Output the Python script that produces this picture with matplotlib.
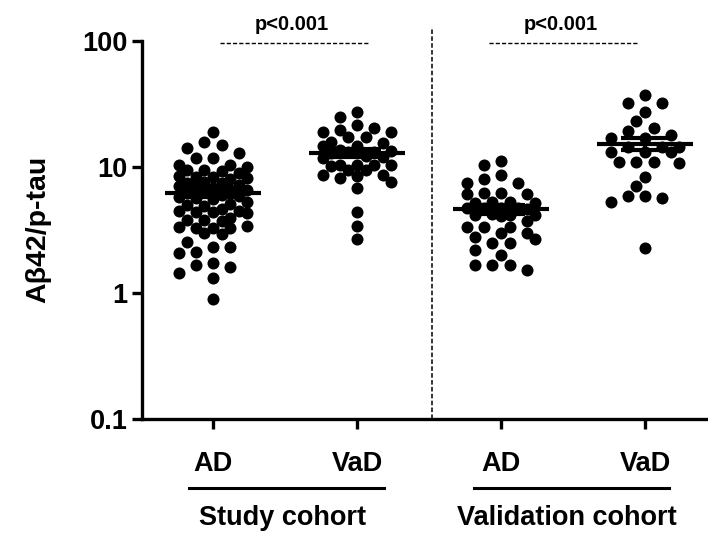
import numpy as np
import matplotlib
matplotlib.use("Agg")
import matplotlib.pyplot as plt
import matplotlib.transforms as mtransforms

plt.rcParams['font.family'] = ['Liberation Sans', 'DejaVu Sans']
plt.rcParams['font.weight'] = 'bold'

# --- DATA ---
groups = ['AD', 'VaD', 'AD', 'VaD']
cohorts = ['Study cohort', 'Validation cohort']
p_labels = ['p<0.001', 'p<0.001']

study_ad = [19.0, 15.6, 14.9, 14.0, 12.9, 11.8, 11.8, 10.3, 10.3, 10.0,
            9.4, 9.4, 9.2, 9.0, 8.4, 8.3, 8.3, 8.2, 8.0, 7.6, 7.5, 7.4, 7.2, 7.0,
            6.9, 6.8, 6.6, 6.5, 6.4, 6.2, 6.0, 5.9, 5.8, 5.7, 5.6,
            5.3, 5.1, 5.0, 4.9, 4.6, 4.5, 4.5, 4.4, 4.4, 4.3,
            3.9, 3.8, 3.8, 3.7, 3.4, 3.35, 3.3, 3.3, 3.3, 3.0, 2.95,
            2.55, 2.32, 2.32, 2.12, 2.06, 1.72, 1.66, 1.60, 1.43, 1.31, 0.89]
study_vad = [27.4, 24.7, 21.4, 20.2, 19.6, 19.0, 19.0, 17.3, 17.3, 15.8, 15.4,
             14.6, 14.6, 13.5, 13.2, 13.0, 12.8, 13.4, 12.0, 12.2, 11.8,
             10.3, 10.3, 10.2, 10.4, 10.3, 9.4, 9.4, 8.6, 8.6, 8.5, 8.1,
             7.6, 6.75, 4.4, 3.4, 2.66]
valid_ad = [11.2, 10.3, 8.6, 7.96, 7.48, 7.4, 6.2, 6.1, 6.2, 6.1,
            5.3, 5.2, 5.3, 5.2, 4.7, 4.7, 4.6, 4.7, 4.7,
            4.15, 4.15, 4.1, 4.2, 4.15, 3.74, 3.35, 3.35, 3.35,
            2.97, 2.97, 2.79, 2.66, 2.5, 2.5, 2.19, 2.0, 1.66, 1.66, 1.66, 1.52]
valid_vad = [37.1, 32.2, 32.2, 27.4, 23.2, 20.2, 19.3, 17.9, 16.9, 16.9,
             14.4, 14.4, 14.4, 13.2, 13.2, 13.2, 11.0, 11.0, 11.0, 10.7,
             8.35, 7.05, 5.87, 5.87, 5.7, 5.3, 2.26]

series = [study_ad, study_vad, valid_ad, valid_vad]
positions = [1, 2, 3, 4]

fig = plt.figure(figsize=(7.08, 5.39), dpi=100)
ax = fig.add_axes([0.2006, 0.2226, 0.7994, 0.7019])
ax.set_yscale('log')
ax.set_ylim(0.1, 100)
ax.set_xlim(0.507, 4.4375)


def swarm(vals, center, step_px=8.6, dmin_px=12.5, max_steps=4):
    # simple beeswarm in pixel space
    vals = np.asarray(vals, dtype=float)
    ys = ax.transData.transform(np.column_stack([np.full(len(vals), center), vals]))[:, 1]
    ppu = ax.transData.transform([[1, 1]])[0, 0] - ax.transData.transform([[0, 1]])[0, 0]
    cands = [0]
    for k in range(1, max_steps + 1):
        cands += [-k * step_px, k * step_px]
    placed = []
    offs = np.zeros(len(vals))
    for i in np.argsort(-vals):
        best, best_d = None, -1
        for c in cands:
            d = min([np.hypot(c - px, ys[i] - py) for px, py in placed] or [1e9])
            if d >= dmin_px:
                best = c
                break
            if d > best_d:
                best, best_d = c, d
        offs[i] = best
        placed.append((best, ys[i]))
    return center + offs / ppu


for vals, pos in zip(series, positions):
    xs = swarm(vals, pos)
    ax.scatter(xs, vals, s=75, color='black', linewidths=0, zorder=2)
    m = np.mean(vals)
    sem = np.std(vals, ddof=1) / np.sqrt(len(vals))
    ax.plot([pos - 0.33, pos + 0.33], [m, m], color='black', lw=3, zorder=3, solid_capstyle='butt')
    ax.plot([pos, pos], [m - sem, m + sem], color='black', lw=3, zorder=3)
    for yy in (m - sem, m + sem):
        ax.plot([pos - 0.167, pos + 0.167], [yy, yy], color='black', lw=3, zorder=3, solid_capstyle='butt')

# axes styling
for s in ['top', 'right']:
    ax.spines[s].set_visible(False)
for s in ['left', 'bottom']:
    ax.spines[s].set_linewidth(2.4)
ax.set_yticks([0.1, 1, 10, 100])
ax.set_yticklabels(['0.1', '1', '10', '100'])
ax.yaxis.set_minor_locator(matplotlib.ticker.NullLocator())
ax.set_xticks(positions)
ax.set_xticklabels(groups)
ax.tick_params(axis='both', length=7.2, width=2.4, labelsize=19.5)
ax.tick_params(axis='x', pad=16)
ax.tick_params(axis='y', pad=3)
ax.set_ylabel('A\u03b242/p-tau', fontsize=20.5, fontweight='bold')
ax.yaxis.set_label_coords(-0.16, 0.5)

# divider between cohorts
blend = mtransforms.blended_transform_factory(ax.transData, ax.transAxes)
ax.plot([2.52, 2.52], [0, 1.036], transform=blend, color='black', lw=1.1,
        ls=(0, (3, 1.5)), clip_on=False)

# significance lines
for (x0, x1), lab in zip([(1.05, 2.08), (2.92, 3.95)], p_labels):
    ax.plot([x0, x1], [95.9, 95.9], color='black', lw=1.0, ls=(0, (3, 1.5)), clip_on=False)
    ax.text((x0 + x1) / 2 - 0.02, 1.043, lab, transform=blend, ha='center', va='center',
            fontsize=14.5, fontweight='bold')

# cohort brackets
for (x0, x1), lab in zip([(0.83, 2.19), (2.81, 4.17)], cohorts):
    ax.plot([x0, x1], [-0.182, -0.182], transform=blend, color='black', lw=2.2, clip_on=False)
    ax.text((x0 + x1) / 2 - 0.03, -0.262, lab, transform=blend, ha='center', va='center',
            fontsize=19.5, fontweight='bold')

fig.savefig('out.png', dpi=100)
